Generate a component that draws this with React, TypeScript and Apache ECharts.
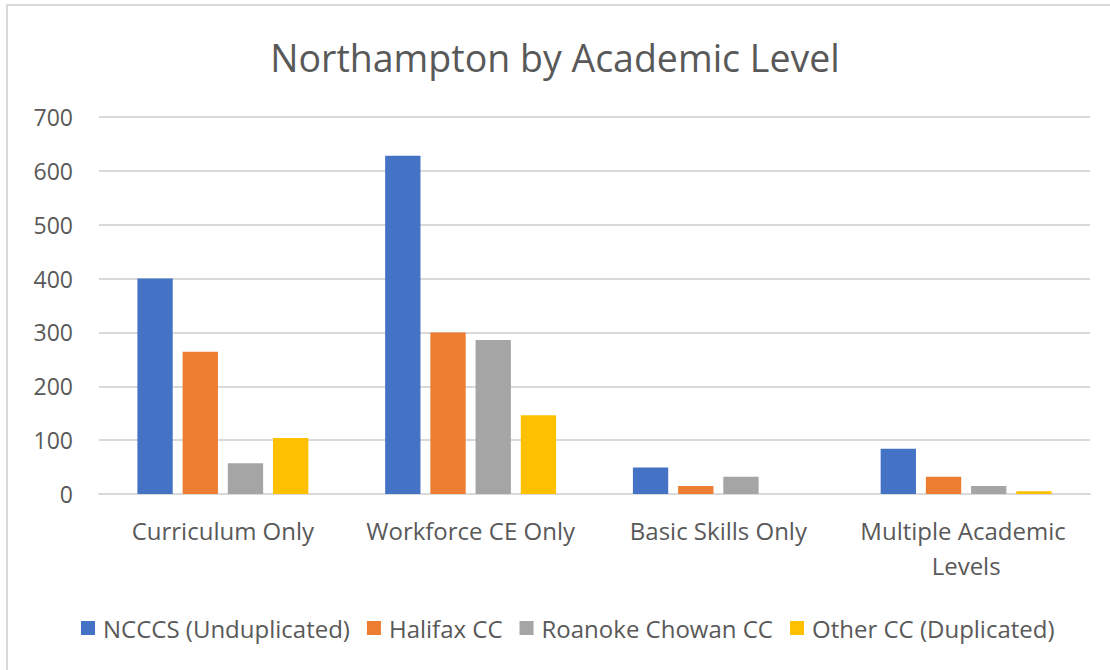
import React, { useEffect, useRef } from "react";
import * as echarts from "echarts";

const categories = ["Curriculum Only", "Workforce CE Only", "Basic Skills Only", "Multiple Academic Levels"];
const seriesNames = ["NCCCS (Unduplicated)", "Halifax CC", "Roanoke Chowan CC", "Other CC (Duplicated)"];
const ncccs = [400, 628, 49, 84];
const halifax = [264, 300, 15, 32];
const roanoke = [57, 286, 32, 15];
const other = [104, 146, 0, 5];
const colors = ["#4472C4", "#ED7D31", "#A5A5A5", "#FFC000"];
const yTicks = { min: 0, max: 700, interval: 100 };

const FONT = "'Open Sans', 'Noto Sans', sans-serif";

export default function App() {
  const ref = useRef<HTMLDivElement>(null);
  useEffect(() => {
    if (!ref.current) return;
    const chart = echarts.init(ref.current, null, { renderer: "svg" });
    const values = [ncccs, halifax, roanoke, other];
    chart.setOption({
      animation: false,
      backgroundColor: "#ffffff",
      textStyle: { fontFamily: FONT, color: "#595959" },
      title: {
        text: "Northampton by Academic Level",
        left: "center",
        top: 33,
        textStyle: { fontFamily: FONT, fontSize: 37.5, fontWeight: "normal", color: "#595959" },
      },
      graphic: [
        {
          type: "rect",
          shape: { x: 7, y: 5, width: 1120, height: 680 },
          style: { fill: "none", stroke: "#d9d9d9", lineWidth: 2 },
          silent: true,
        },
      ],
      legend: {
        bottom: 25,
        left: 76,
        itemWidth: 14,
        itemHeight: 14,
        itemGap: 17,
        icon: "rect",
        textStyle: { fontFamily: FONT, fontSize: 24, color: "#595959", padding: [0, 0, 0, 3] },
        data: seriesNames,
      },
      grid: { left: 99, right: 20, top: 117, bottom: 176, containLabel: false },
      xAxis: {
        type: "category",
        data: categories,
        axisLine: { lineStyle: { color: "#d9d9d9", width: 2 } },
        axisTick: { show: false },
        axisLabel: {
          fontFamily: FONT,
          fontSize: 24,
          color: "#595959",
          margin: 19,
          lineHeight: 35,
          width: 225,
          overflow: "break",
          interval: 0,
        },
      },
      yAxis: {
        type: "value",
        min: yTicks.min,
        max: yTicks.max,
        interval: yTicks.interval,
        axisLine: { show: false },
        axisTick: { show: false },
        splitLine: { lineStyle: { color: "#d9d9d9", width: 2 } },
        axisLabel: { fontFamily: FONT, fontSize: 23, color: "#595959", margin: 26 },
      },
      series: seriesNames.map((name, i) => ({
        name,
        type: "bar",
        data: values[i],
        barGap: "28%",
        barCategoryGap: "31%",
        itemStyle: { color: colors[i] },
      })),
    });
    return () => chart.dispose();
  }, []);
  return (
    <div
      ref={ref}
      style={{ position: "fixed", left: 0, top: 0, width: 1110, height: 670 }}
    />
  );
}
